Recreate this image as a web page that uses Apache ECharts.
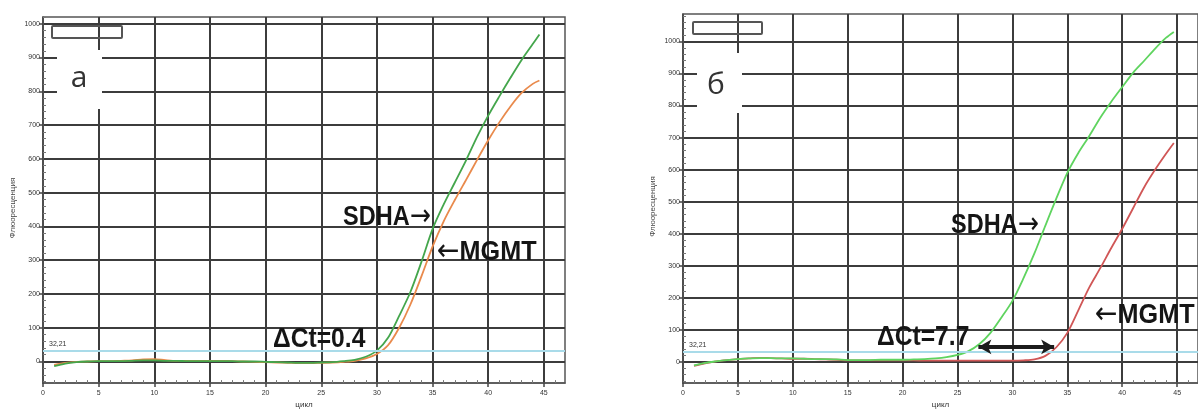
<!DOCTYPE html>
<html>
<head>
<meta charset="utf-8">
<script src="https://cdn.jsdelivr.net/npm/echarts@6/dist/echarts.min.js"></script>
<style>
html,body{margin:0;padding:0;background:#fff;}
#c{width:1198px;height:414px;}
</style>
</head>
<body>
<div id="c"></div>
<script>
// ---- data ----
var cyclesA = [1,2,3,4,5,6,7,8,9,10,11,12,13,14,15,16,17,18,19,20,21,22,23,24,25,26,27,28,29,30,31,32,33,34,35,36,37,38,39,40,41,42,43,44,44.6];
var sdhaA = [-14,-6,-2,0,1,1,1,2,3,3,2,2,1,1,1,1,1,0,0,-1,-2,-3,-4,-4,-3,-2,1,5,14,32,70,135,205,295,392,465,530,595,665,728,785,840,893,940,968];
var mgmtA = [-10,-4,-1,0,1,1,2,3,6,7,4,2,2,2,2,2,1,0,-1,-2,-3,-4,-5,-5,-4,-3,-1,2,9,22,48,100,168,252,340,415,478,537,597,655,708,755,795,822,832];

var cyclesB = [1,2,3,4,5,6,7,8,9,10,11,12,13,14,15,16,17,18,19,20,21,22,23,24,25,26,27,28,29,30,31,32,33,34,35,36,37,38,39,40,41,42,43,44,44.7];
var sdhaB = [-12,-4,1,5,8,10,11,11,10,10,9,8,8,7,5,5,5,6,6,6,7,8,10,14,21,33,55,90,138,190,260,338,425,510,590,652,705,762,812,858,903,940,978,1012,1030];
var mgmtB = [-13,-5,1,5,8,10,12,11,10,9,9,8,7,6,4,4,4,4,4,4,4,3,3,3,3,3,3,3,3,3,4,7,18,45,90,160,232,292,355,415,480,545,600,650,683];

var threshold = 32.21;
var thresholdLabel = '32,21';
var arrowSpanB = [26.9, 33.8];
var arrowLevelB = 46;

var xTicks = [0,5,10,15,20,25,30,35,40,45];
var xMinor = [1,2,3,4,6,7,8,9,11,12,13,14,16,17,18,19,21,22,23,24,26,27,28,29,31,32,33,34,36,37,38,39,41,42,43,44,46];
var yTicks = [0,100,200,300,400,500,600,700,800,900,1000];
var yMinor = [-60,-40,-20,20,40,60,80,120,140,160,180,220,240,260,280,320,340,360,380,420,440,460,480,520,540,560,580,620,640,660,680,720,740,760,780,820,840,860,880,920,940,960,980,1020,1040,1060,1080];

var xName = 'цикл';
var yName = 'Флюоресценция';
var panelLabels = ['а', 'б'];
var geneNames = ['SDHA', 'MGMT'];
var deltaLabels = ['ΔCt=0.4', 'ΔCt=7.7'];

function pairs(xs, ys){ return xs.map(function(x,i){ return [x, ys[i]]; }); }

var labelFont = {fontSize: 7, color: '#333', fontFamily: 'Liberation Sans', formatter: function(v){ return String(v); }};
var gridColor = '#3c3c3c';

function mainX(gi){
  return {
    type:'value', gridIndex: gi, position:'bottom', min: 0, max: 46.9,
    axisLine:{show:true, onZero:false, lineStyle:{color:'#555', width:1.5}},
    axisTick:{show:true, customValues: xTicks, length:4, inside:false, lineStyle:{color:'#444', width:1.5}},
    axisLabel:Object.assign({customValues: xTicks, margin:6}, labelFont),
    splitLine:{show:true, lineStyle:{color:gridColor, width:2}},
    name: xName, nameLocation:'middle', nameGap:16,
    nameTextStyle:{fontSize:8, color:'#333', fontFamily:'Liberation Sans'}
  };
}
function minorX(gi){
  return {
    type:'value', gridIndex: gi, position:'bottom', min: 0, max: 46.9,
    axisLine:{show:false, onZero:false},
    axisTick:{show:true, customValues: xMinor, length:3, inside:true, lineStyle:{color:'#777', width:1}},
    axisLabel:{show:false}, splitLine:{show:false}
  };
}
function mainY(gi, mn, mx){
  return {
    type:'value', gridIndex: gi, position:'left', min: mn, max: mx,
    axisLine:{show:true, onZero:false, lineStyle:{color:'#555', width:1.5}},
    axisTick:{show:true, customValues: yTicks, length:4, inside:false, lineStyle:{color:'#444', width:1.5}},
    axisLabel:Object.assign({customValues: yTicks, margin:3}, labelFont),
    splitLine:{show:true, lineStyle:{color:gridColor, width:2}},
    name: yName, nameLocation:'middle', nameGap:26, nameRotate:90,
    nameTextStyle:{fontSize:8, color:'#444', fontFamily:'Liberation Sans', padding:[0,0,0,-16]}
  };
}
function minorY(gi, mn, mx){
  return {
    type:'value', gridIndex: gi, position:'left', min: mn, max: mx,
    axisLine:{show:false, onZero:false},
    axisTick:{show:true, customValues: yMinor, length:3, inside:true, lineStyle:{color:'#777', width:1}},
    axisLabel:{show:false}, splitLine:{show:false}
  };
}
function thresholdLine(){
  return {
    silent:true, symbol:'none',
    lineStyle:{color:'#a9dbe9', width:2, type:'solid'},
    label:{show:true, position:'insideStartTop', formatter: thresholdLabel, fontSize:7, color:'#333', distance:[6,3]},
    data:[{yAxis: threshold}]
  };
}

var richStyles = {
  t:{font:'bold 28px "Liberation Sans", Arial, sans-serif', fill:'#151515', verticalAlign:'middle'},
  a:{font:'30px "DejaVu Sans", sans-serif', fill:'#151515', verticalAlign:'middle'}
};
function txt(x, y, s, sx){
  return {type:'text', z:20, x:x, y:y, scaleX:sx || 0.86, scaleY:1,
    style:{x:0, y:0, text:s, rich:richStyles, verticalAlign:'middle', fill:'#151515'}};
}

var option = {
  backgroundColor:'#fff',
  animation:false,
  grid:[
    {left:43, top:17, width:522, height:374, show:true, borderColor:'#555', borderWidth:1.5, backgroundColor:'transparent'},
    {left:683, top:14, width:522, height:377, show:true, borderColor:'#555', borderWidth:1.5, backgroundColor:'transparent'}
  ],
  xAxis:[mainX(0), mainX(1), minorX(0), minorX(1)],
  yAxis:[mainY(0,-64,1020), mainY(1,-67,1086), minorY(0,-64,1020), minorY(1,-67,1086)],
  series:[
    {name:'SDHA', type:'line', xAxisIndex:0, yAxisIndex:0, data:pairs(cyclesA, sdhaA), smooth:0.3, showSymbol:false, z:4,
     lineStyle:{color:'#44a64c', width:1.8}, markLine: thresholdLine()},
    {name:'MGMT', type:'line', xAxisIndex:0, yAxisIndex:0, data:pairs(cyclesA, mgmtA), smooth:0.3, showSymbol:false, z:3,
     lineStyle:{color:'#e98a4c', width:1.8}},
    {name:'SDHA', type:'line', xAxisIndex:1, yAxisIndex:1, data:pairs(cyclesB, sdhaB), smooth:0.3, showSymbol:false, z:4,
     lineStyle:{color:'#5fd45f', width:1.8}, markLine: thresholdLine()},
    {name:'MGMT', type:'line', xAxisIndex:1, yAxisIndex:1, data:pairs(cyclesB, mgmtB), smooth:0.3, showSymbol:false, z:3,
     lineStyle:{color:'#d05656', width:1.8},
     markLine:{silent:true, symbol:['arrow','arrow'], symbolSize:[11,13], label:{show:false},
       lineStyle:{color:'#1c1c1c', width:4, type:'solid'},
       data:[[{coord:[arrowSpanB[0], arrowLevelB]}, {coord:[arrowSpanB[1], arrowLevelB]}]]}}
  ],
  graphic:[
    {type:'rect', z:10, shape:{x:57, y:50, width:45, height:59}, style:{fill:'#fff'}},
    {type:'text', z:11, style:{x:79, y:78, text:panelLabels[0], font:'30px "Open Sans", sans-serif', fill:'#333', align:'center', verticalAlign:'middle'}},
    {type:'rect', z:11, shape:{x:52, y:26, width:70, height:12, r:1}, style:{fill:'none', stroke:'#555', lineWidth:2}},
    {type:'rect', z:10, shape:{x:697, y:53, width:45, height:60}, style:{fill:'#fff'}},
    {type:'text', z:11, style:{x:716, y:85, text:panelLabels[1], font:'30px "Open Sans", sans-serif', fill:'#333', align:'center', verticalAlign:'middle'}},
    {type:'rect', z:11, shape:{x:693, y:22, width:69, height:12, r:1}, style:{fill:'none', stroke:'#555', lineWidth:2}},
    txt(343, 217, '{t|' + geneNames[0] + '}{a|→}', 0.84),
    txt(437, 252, '{a|←}{t|' + geneNames[1] + '}', 0.9),
    txt(273, 339, '{t|' + deltaLabels[0] + '}', 0.88),
    txt(951, 225, '{t|' + geneNames[0] + '}{a|→}', 0.84),
    txt(1095, 315, '{a|←}{t|' + geneNames[1] + '}', 0.9),
    txt(877, 337, '{t|' + deltaLabels[1] + '}', 0.88)
  ]
};

var chart = echarts.init(document.getElementById('c'), null, {renderer:'canvas'});
chart.setOption(option);
</script>
</body>
</html>
